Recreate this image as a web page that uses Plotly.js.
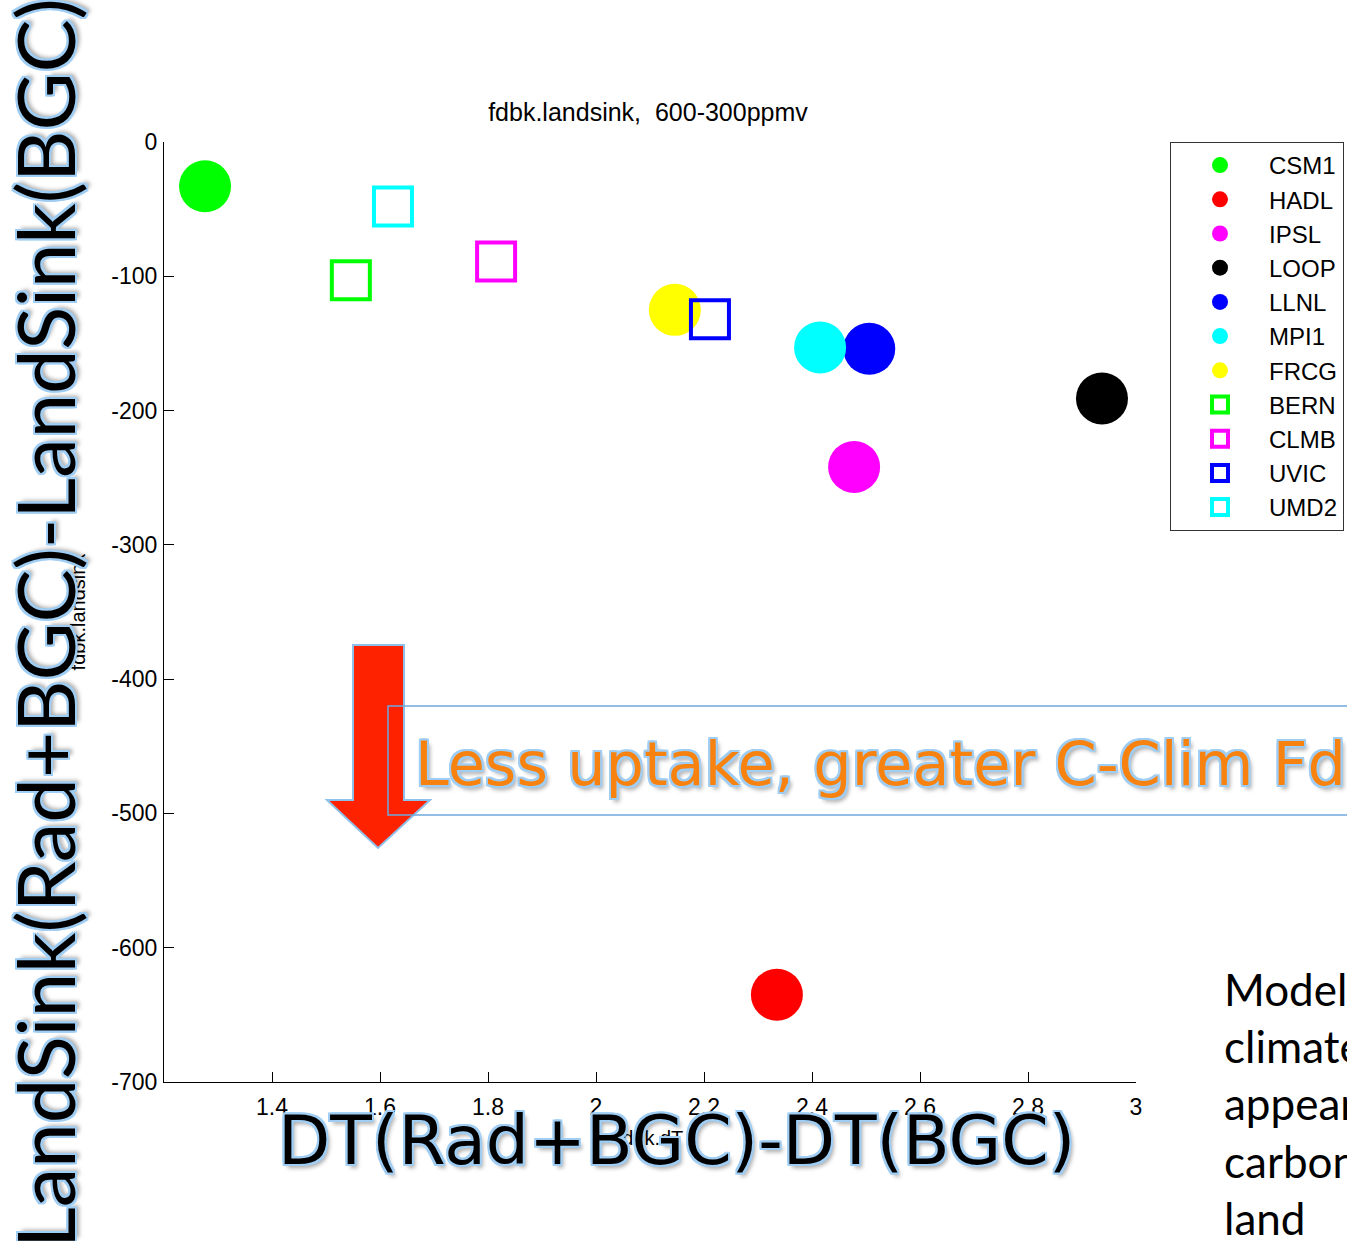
<!DOCTYPE html>
<html>
<head>
<meta charset="utf-8">
<script src="https://cdn.plot.ly/plotly-3.0.1.min.js"></script>
<style>
  html, body { margin: 0; padding: 0; background: #ffffff; overflow: hidden; }
  #chart { width: 1347px; height: 1241px; }
</style>
</head>
<body>
<div id="chart"></div>
<script>
// ---- data ----
const models   = ["CSM1", "HADL", "IPSL", "LOOP", "LLNL", "MPI1", "FRCG", "BERN", "CLMB", "UVIC", "UMD2"];
const dTvalues = [1.276, 2.335, 2.478, 2.937, 2.506, 2.415, 2.146, 1.546, 1.815, 2.211, 1.624];
const landSink = [-33, -635, -242, -191, -154, -153, -125, -103, -89, -132, -48];

const xTickVals  = [1.4, 1.6, 1.8, 2.0, 2.2, 2.4, 2.6, 2.8, 3.0];
const xTickText  = ["1.4", "1.6", "1.8", "2", "2.2", "2.4", "2.6", "2.8", "3"];
const yTickVals  = [0, -100, -200, -300, -400, -500, -600, -700];
const yTickText  = ["0", "-100", "-200", "-300", "-400", "-500", "-600", "-700"];

// ---- styles ----
const markerColors  = ["#00ff00", "#ff0000", "#ff00ff", "#000000", "#0000ff", "#00ffff", "#ffff00",
                       "#00ff00", "#ff00ff", "#0000ff", "#00ffff"];
const markerSymbols = ["circle", "circle", "circle", "circle", "circle", "circle", "circle",
                       "square-open", "square-open", "square-open", "square-open"];

const traces = models.map((m, i) => {
  const open = markerSymbols[i].indexOf("open") >= 0;
  return {
    type: "scatter",
    mode: "markers",
    name: m,
    x: [dTvalues[i]],
    y: [landSink[i]],
    marker: {
      symbol: markerSymbols[i],
      size: open ? 38 : 52,
      color: markerColors[i],
      line: { width: open ? 4 : 0, color: markerColors[i] }
    },
    hoverinfo: "name+x+y"
  };
});

const glow = "-2px -2px 0 #9fcdf3, 2px -2px 0 #9fcdf3, -2px 2px 0 #9fcdf3, 2px 2px 0 #9fcdf3, 0 -2px 0 #9fcdf3, 0 2px 0 #9fcdf3, -2px 0 0 #9fcdf3, 2px 0 0 #9fcdf3, 3px 4px 4px rgba(0,0,0,0.35)";

// pixel -> paper helpers for overlay decorations (plot area: x 164..1136, y 142..1082)
const PX = X => (X - 164) / 972;
const PY = Y => (1082 - Y) / 940;

const arrowPath = "M " + PX(353) + "," + PY(645) +
                  " L " + PX(404) + "," + PY(645) +
                  " L " + PX(404) + "," + PY(800) +
                  " L " + PX(430) + "," + PY(800) +
                  " L " + PX(378) + "," + PY(848) +
                  " L " + PX(327) + "," + PY(800) +
                  " L " + PX(353) + "," + PY(800) + " Z";

const layout = {
  width: 1347,
  height: 1241,
  margin: { l: 164, r: 211, t: 142, b: 159, pad: 0, autoexpand: false },
  paper_bgcolor: "#ffffff",
  plot_bgcolor: "#ffffff",
  font: { family: "Liberation Sans, Arial, sans-serif", color: "#000000", size: 23 },
  showlegend: true,
  title: {
    text: "fdbk.landsink,  600-300ppmv",
    font: { size: 25, family: "Liberation Sans, Arial, sans-serif", color: "#000" },
    x: PX(648), xref: "paper", xanchor: "center",
    y: 1 - 112 / 1241, yref: "container", yanchor: "middle"
  },
  xaxis: {
    range: [1.2, 3],
    tickvals: xTickVals,
    ticktext: xTickText,
    ticks: "inside",
    ticklen: 10,
    tickwidth: 1,
    tickcolor: "#000",
    showline: true,
    linecolor: "#000",
    linewidth: 1,
    showgrid: false,
    zeroline: false,
    automargin: false,
    tickfont: { size: 23 },
    ticklabelstandoff: 4,
    title: { text: "fdbk.dT", font: { size: 20 }, standoff: 12 }
  },
  yaxis: {
    range: [-700, 0],
    tickvals: yTickVals,
    ticktext: yTickText,
    ticks: "inside",
    ticklen: 10,
    tickwidth: 1,
    tickcolor: "#000",
    showline: true,
    linecolor: "#000",
    linewidth: 1,
    showgrid: false,
    zeroline: false,
    automargin: false,
    tickfont: { size: 23 },
    ticklabelstandoff: 1,
    title: { text: "fdbk.landsink", font: { size: 20 }, standoff: 20 }
  },
  legend: {
    x: PX(1170), xanchor: "left",
    y: 1, yanchor: "top",
    bgcolor: "#ffffff",
    bordercolor: "#333333",
    borderwidth: 1,
    font: { size: 24, family: "Liberation Sans, Arial, sans-serif", color: "#000" },
    itemwidth: 88,
    tracegroupgap: 0
  },
  shapes: [
    { type: "path", xref: "paper", yref: "paper", path: arrowPath,
      fillcolor: "#ff2200", line: { color: "#8fc0ea", width: 2 }, layer: "above" },
    { type: "rect", xref: "paper", yref: "paper",
      x0: PX(388), x1: PX(1400), y0: PY(815), y1: PY(706),
      line: { color: "#6fa8dc", width: 1.5 }, fillcolor: "rgba(0,0,0,0)", layer: "above" }
  ],
  annotations: [
    { text: "LandSink(Rad+BGC)-LandSink(BGC)", textangle: -90, showarrow: false,
      xref: "paper", yref: "paper", x: PX(44), y: PY(623), xanchor: "center", yanchor: "middle",
      font: { family: "Lato, sans-serif", size: 79.5, color: "#000", shadow: glow } },
    { text: "DT(Rad+BGC)-DT(BGC)", showarrow: false,
      xref: "paper", yref: "paper", x: PX(676), y: PY(1140), xanchor: "center", yanchor: "middle",
      font: { family: "DejaVu Sans, sans-serif", size: 68, color: "#000", shadow: glow } },
    { text: "Less uptake, greater C-Clim Fdbk", showarrow: false,
      xref: "paper", yref: "paper", x: PX(413), y: PY(764), xanchor: "left", yanchor: "middle",
      font: { family: "DejaVu Sans, sans-serif", size: 60.5, color: "#f7820f", shadow: glow } },
    { text: "Models<br>climate<br>appear<br>carbon<br>land", showarrow: false, align: "left",
      xref: "paper", yref: "paper", x: PX(1222), y: PY(1103), xanchor: "left", yanchor: "middle",
      font: { family: "Lato, sans-serif", size: 44, color: "#000" } }
  ]
};

Plotly.newPlot("chart", traces, layout, { displayModeBar: false, responsive: false });
</script>
</body>
</html>
